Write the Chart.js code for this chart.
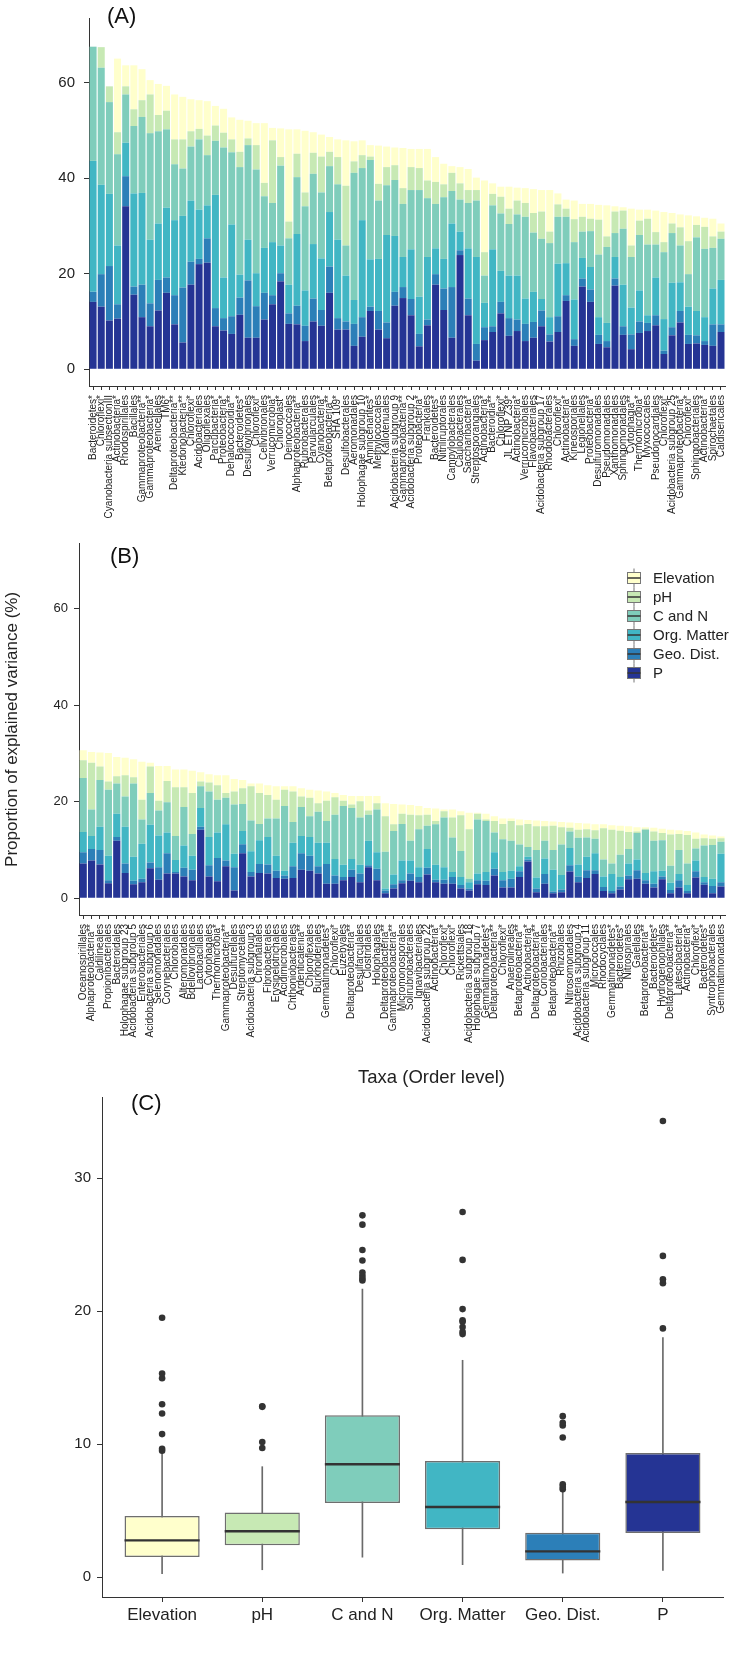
<!DOCTYPE html>
<html><head><meta charset="utf-8">
<script src="https://cdn.jsdelivr.net/npm/chart.js@4.4.1/dist/chart.umd.min.js"></script>
<style>
body{margin:0;background:#fff;width:738px;height:1654px;position:relative;overflow:hidden;font-family:'Liberation Sans',Arial,sans-serif;color:#222}
.wrap{position:absolute;left:0}
.lbl{position:absolute;font-size:22px;color:#111;line-height:1}
</style></head><body>
<div class="wrap" style="top:0px"><canvas id="cA" width="738" height="530"></canvas></div>
<div class="wrap" style="top:530px"><canvas id="cB" width="738" height="520"></canvas></div>
<div class="wrap" style="top:1060px"><canvas id="cC" width="738" height="594"></canvas></div>
<div class="lbl" style="left:107px;top:5px">(A)</div>
<div class="lbl" style="left:110px;top:545px">(B)</div>
<div class="lbl" style="left:131px;top:1092px">(C)</div>
<div style="position:absolute;left:358px;top:1068px;font-size:18.5px;line-height:1">Taxa (Order level)</div>
<script>
// ---------- shared ----------
const seriesNames = ['Elevation','pH','C and N','Org. Matter','Geo. Dist.','P'];
const seriesColors = ['#ffffcc','#c7e9b4','#7fcdbb','#41b6c4','#2c7fb8','#253494'];
const yTicksAB = [0,20,40,60];
const yTicksC = [0,10,20,30];

// ---------- panel A ----------
const labelsA = ['Bacteroidetes*','Chloroflexi*','Cyanobacteria subsectionIII','Actinobacteria*','Rhodospirillales','Bacillales','Gammaproteobacteria**','Gammaproteobacteria*','Arenicellales','TM6*','Deltaproteobacteria**','Ktedonobacteria**','Chloroflexi*','Acidobacteriales','Oligoflexales','Parcubacteria*','Proteobacteria*','Dehalococcoidia**','Bacteroidetes*','Desulfovibrionales','Chloroflexi*','Cellvibrionales','Verrucomicrobia*','Chloroplast*','Deinococcales','Alphaproteobacteria**','Rubrobacterales','Parvularculales','Cyanobacteria*','Betaproteobacteria**','SHA 109*','Desulfobacterales','Aeromonadales','Holophagae subgroup 10','Aminicenantes*','Methylococcales','Kallotenuales','Acidobacteria subgroup 9','Gammaproteobacteria**','Acidobacteria subgroup 2','Proteobacteria*','Frankiales','Bacteroidetes*','Nitriliruptorales','Campylobacterales','Caulobacterales','Saccharibacteria*','Streptosporangiales','Actinobacteria*','Bacteroidia**','Chloroflexi*','JL ETNP Z39*','Actinobacteria*','Verrucomicrobiales','Flavobacteriales','Acidobacteria subgroup 17','Rhodobacterales','Chloroflexi*','Actinobacteria*','Kineosporiales','Legionellales','Proteobacteria*','Desulfuromonadales','Pseudomonadales','Xanthomonadales','Sphingomonadales','Cytophagia**','Thermomicrobia*','Myxococcales','Pseudonocardiales','Chloroflexi*','Acidobacteria subgroup 25','Gammaproteobacteria*','Chloroflexi*','Sphingobacteriales','Actinobacteria*','Spirochaetales','Caldisericales'];
const elevA = [0,0,0,15.4,4.4,9.2,6.5,3.0,6.5,5.2,9.4,8.9,6.7,6.0,7.2,4.1,5.0,4.6,6.7,3.7,4.6,12.5,2.6,6.0,19.3,5.1,12.9,4.3,4.6,3.1,3.7,9.5,4.2,3.1,2.4,8.0,4.3,3.7,8.4,3.8,4.0,6.6,5.2,4.3,1.4,3.4,4.4,2.6,15.0,2.2,2.1,4.6,2.7,3.1,5.0,4.5,8.7,2.3,1.9,3.9,2.7,3.1,3.1,6.5,1.1,0.7,7.7,2.3,1.9,4.5,6.3,2.2,2.7,5.4,1.8,1.9,3.7,1.7];
const phA = [0,4.3,3.3,4.6,1.7,3.5,3.5,8.1,3.4,3.9,5.2,6.1,3.2,2.2,4.1,3.2,3.1,2.7,3.2,1.4,5.1,2.8,13.1,1.8,3.5,4.9,2.9,4.4,7.5,3.0,5.7,12.5,2.4,2.7,0.7,3.5,3.8,3.1,3.3,4.8,4.6,3.7,4.6,2.7,3.8,3.4,2.7,2.2,4.9,2.4,3.5,3.2,2.9,2.9,4.1,5.7,2.4,2.6,1.7,4.8,3.1,2.6,7.3,2.2,4.5,3.8,2.4,3.0,5.4,2.6,2.1,2.0,3.8,6.9,2.6,4.6,2.4,1.5];
const cnA = [23.9,24.5,19.2,19.1,10.1,14.1,15.9,22.3,19.3,16.4,11.7,9.9,11.3,14.7,10.5,11.3,27.2,15.1,22.5,19.8,21.7,10.8,8.2,16.7,9.7,11.9,17.6,14.7,13.8,9.6,11.6,6.3,26.6,10.9,20.8,12.2,10.4,11.7,11.1,12.4,22.3,12.3,9.3,12.9,6.8,6.7,9.5,11.8,5.7,9.2,12.0,10.8,12.8,17.1,12.4,12.6,15.5,9.8,9.7,12.0,5.5,7.5,13.1,15.9,5.0,11.7,10.6,11.6,14.8,6.9,14.0,10.4,7.7,6.8,15.4,14.3,8.5,8.6];
const orgA = [27.4,18.7,15.1,12.3,7.0,19.5,19.2,13.3,11.8,14.6,15.7,15.0,12.8,10.3,6.9,23.7,8.5,19.2,4.8,8.5,6.9,9.4,11.1,5.8,6.0,15.0,7.4,11.4,10.8,11.4,16.4,9.6,5.0,20.3,9.9,10.9,18.3,11.7,6.3,10.4,7.8,13.1,5.4,6.2,13.3,3.9,10.5,18.2,5.1,16.1,6.5,8.9,9.2,5.3,6.3,2.4,3.6,11.0,6.7,8.3,4.3,4.7,3.7,3.8,4.5,8.7,5.6,6.5,1.6,7.9,6.6,9.3,6.0,5.9,5.1,5.0,7.5,9.3];
const geoA = [2.1,6.8,11.4,3.0,6.3,1.7,6.8,4.8,6.4,3.2,6.1,11.5,4.8,1.1,5.1,3.8,2.6,3.7,3.6,12.0,6.6,5.6,1.9,1.7,2.2,3.9,3.2,4.8,3.3,5.5,2.4,1.7,4.6,4.1,0.9,3.9,3.3,2.9,2.3,3.4,2.6,1.2,2.2,4.5,10.6,1.0,3.5,3.5,2.7,1.2,2.4,3.7,2.4,3.6,3.3,3.3,1.5,3.3,1.2,1.4,1.7,2.6,1.9,1.3,1.5,1.8,3.1,2.4,1.7,2.1,0.7,1.7,2.4,1.9,1.7,0.8,4.5,1.6];
const pA = [14.1,13.1,10.2,10.6,34.1,15.6,10.9,9.0,12.3,16.0,9.4,5.6,17.7,22.0,22.3,9.0,8.1,7.4,11.4,6.6,6.6,10.4,13.6,18.4,9.5,9.4,5.9,10.0,9.1,16.0,8.3,8.3,4.9,6.8,12.2,8.3,6.5,13.3,14.9,11.3,4.8,9.2,17.7,12.4,6.6,23.9,11.3,1.8,6.1,7.8,11.7,7.0,8.0,5.9,6.6,9.0,5.8,7.8,14.3,4.9,17.3,14.1,5.3,4.6,17.5,7.2,4.2,7.6,8.0,9.2,3.2,7.1,9.8,5.3,5.4,5.1,4.9,7.8];

// ---------- panel B ----------
const labelsB = ['Oceanospirillales','Alphaproteobacteria**','Caldilineales','Propionibacteriales','Bacteroidales','Holophagae subgroup 23','Acidobacteria subgroup 5','Enterobacteriales','Acidobacteria subgroup 6','Selenomonadales','Corynebacteriales','Chlorobiales','Alteromonadales','Bdellovibrionales','Lactobacillales','Cytophagales','Thermomicrobia*','Gammaproteobacteria**','Desulfurellales','Streptomycetales','Acidobacteria subgroup 3','Chromatiales','Fibrobacterales','Erysipelotrichales','Acidimicrobiales','Chthoniobacterales','Ardenticatenia**','Chloroflexales','Burkholderiales','Gemmatimonadetes*','Chloroflexi*','Euzebyales','Deltaproteobacteria**','Desulfarculales','Clostridiales','Holophagales','Deltaproteobacteria**','Gammaproteobacteria**','Micromonosporales','Solirubrobacterales','Ignavibacteriales','Acidobacteria subgroup 22','Actinobacteria*','Chloroflexi*','Chloroflexi*','Rickettsiales','Acidobacteria subgroup 18','Holophagae subgroup 7','Gemmatimonadetes*','Deltaproteobacteria**','Chloroflexi*','Anaerolineales','Betaproteobacteria**','Actinobacteria*','Deltaproteobacteria**','Coriobacteriales','Betaproteobacteria**','Rhizobiales','Nitrosomonadales','Acidobacteria subgroup 4','Acidobacteria subgroup 11','Micrococcales','Rhodocyclales','Gemmatimonadetes*','Bacteroidetes*','Nitrospirales','Gaiellales','Betaproteobacteria**','Bacteroidetes*','Hydrogenophilales','Deltaproteobacteria**','Latescibacteria*','Actinobacteria*','Chloroflexi*','Bacteroidetes*','Syntrophobacterales','Gemmatimonadales'];
const elevB = [2.1,2.2,2.9,5.9,4.0,3.6,3.7,7.9,0.8,7.2,3.1,3.7,3.7,4.6,1.9,1.7,2.1,3.7,2.6,1.7,0.6,2.0,2.0,2.8,0.7,1.1,1.7,1.7,2.6,1.9,0.9,1.2,1.8,1.1,3.0,1.5,2.7,4.2,1.9,2.0,1.9,1.4,2.6,0.4,1.7,0.8,3.4,0.2,1.2,1.0,1.1,0.5,1.2,0.8,1.2,1.1,0.9,1.1,1.1,1.4,1.2,1.2,0.8,0.9,1.0,1.2,0.9,0.3,0.8,0.9,1.0,0.8,0.8,1.3,0.8,0.7,0.4];
const phB = [3.7,9.7,2.8,1.7,1.5,4.4,1.3,4.1,5.5,2.0,4.4,10.1,4.1,8.5,1.0,1.9,3.0,1.0,2.7,3.3,7.1,6.4,4.9,3.9,3.4,6.3,2.2,3.8,1.8,4.2,3.6,1.1,0.7,3.4,0.9,1.3,7.4,1.4,2.1,5.4,2.9,2.3,0.7,1.3,4.1,7.4,10.3,1.2,0.3,2.4,3.2,4.1,4.0,4.8,4.9,3.0,5.0,3.6,0.8,1.7,1.7,1.8,6.5,7.0,5.0,3.5,0.3,0.2,1.9,1.5,6.5,3.3,5.9,2.0,1.5,1.3,0.7];
const cnB = [11.2,5.5,9.7,13.7,6.3,6.3,15.2,5.0,6.6,5.2,6.3,5.0,8.0,4.5,4.5,9.4,6.8,5.5,10.2,5.6,6.4,3.4,3.8,7.7,13.4,4.3,6.0,4.3,6.4,4.5,9.2,12.2,10.6,9.8,5.4,8.9,7.6,9.0,7.6,4.1,7.9,4.8,8.4,10.3,7.2,5.4,0.7,11.2,10.6,4.1,6.8,6.2,4.5,2.0,5.7,3.7,4.1,6.3,3.4,5.5,4.0,3.0,3.5,2.2,4.6,3.0,5.5,9.0,6.3,6.3,3.5,5.0,4.5,2.5,6.5,7.0,2.5];
const orgB = [4.2,2.7,4.8,5.1,4.8,7.6,5.0,7.3,7.8,6.6,4.3,2.5,4.6,2.9,3.9,5.9,5.3,7.5,2.8,2.7,4.3,4.9,5.7,3.1,1.0,4.9,3.6,3.9,4.9,4.4,3.4,2.5,2.2,1.8,5.1,3.4,0.4,2.0,4.1,2.7,2.0,3.9,3.1,2.6,1.0,1.7,1.3,1.4,1.8,3.4,1.7,1.7,1.0,0.6,2.3,3.2,4.5,3.0,3.6,2.5,2.8,3.5,2.2,3.5,2.0,2.5,2.2,1.5,2.6,1.2,1.5,1.3,1.2,2.2,1.1,1.5,5.9];
const geoB = [2.3,2.4,3.0,0.6,0.8,2.0,0.7,0.7,1.2,2.6,4.2,0.3,1.8,2.2,0.6,2.3,4.8,1.2,4.8,1.9,0.9,1.9,1.9,1.5,0.7,2.4,3.4,3.1,1.5,4.1,1.7,0.7,1.5,1.8,0.4,2.4,0.6,0.9,0.6,1.5,1.1,1.4,0.5,0.8,1.4,0.7,0.4,0.8,0.9,1.4,1.5,1.8,1.2,0.4,0.8,2.0,0.4,0.6,1.3,1.2,1.6,0.8,0.8,0.5,0.6,0.8,1.8,0.7,0.8,0.6,0.7,1.5,0.5,1.3,0.5,1.5,0.9];
const pB = [7.2,7.8,7.0,3.1,11.9,5.2,2.9,3.3,6.2,3.8,5.1,5.1,4.5,3.7,14.2,4.5,3.5,6.6,1.6,9.3,4.5,5.2,5.1,4.2,4.0,4.2,5.9,5.7,5.1,3.0,3.0,3.7,4.4,3.3,6.4,3.7,1.0,2.0,3.1,3.6,3.3,4.9,3.3,3.0,3.0,2.0,1.6,2.9,2.7,4.7,2.2,2.2,4.4,7.6,1.2,3.0,1.0,1.2,5.5,3.3,4.2,5.0,1.5,1.0,1.8,3.9,4.0,3.0,2.2,3.9,1.0,2.2,1.0,4.3,2.8,1.0,2.4];

// ---------- panel C (box plots) ----------
const categoriesC = ['Elevation','pH','C and N','Org. Matter','Geo. Dist.','P'];
const whiskerLowC  = [0.25,0.55,1.5,0.93,0.3,0.5];
const q1C          = [1.5,2.39,5.57,3.59,1.25,3.31];
const medianC      = [2.76,3.44,8.48,5.27,1.93,5.64];
const q3C          = [4.6,4.85,12.17,8.73,3.34,9.33];
const whiskerHighC = [9.3,8.3,21.65,16.3,6.4,18.0];
const outliersC = [
  [9.5,9.65,10.75,12.3,13.0,14.95,15.3,19.5],
  [9.7,10.15,12.8,12.85],
  [22.3,22.45,22.65,22.9,23.8,24.6,26.5,27.2],
  [18.27,18.45,18.8,19.2,19.3,20.15,23.85,27.45],
  [6.6,6.78,6.98,10.5,11.4,11.6,12.1],
  [18.7,22.1,22.4,24.15,34.3]
];

Chart.defaults.font.family = "'Liberation Sans', Arial, sans-serif";
Chart.defaults.color = '#222';
const AX = '#333';

function stackedBars(id, labels, values, cfg) {
  const datasets = seriesNames.map((n, i) => ({
    label: n, data: values[i], backgroundColor: seriesColors[i], borderWidth: 0,
    categoryPercentage: 0.86, barPercentage: 1
  })).reverse();
  const yScale = {
    stacked: true, min: -3.5, max: 73.5,
    grid: { drawOnChartArea: false, tickLength: 5, color: AX },
    border: { display: true, color: AX, width: 1 },
    ticks: { font: { size: cfg.yfont }, color: '#222', padding: cfg.ypad },
    afterBuildTicks: s => { s.ticks = yTicksAB.map(v => ({ value: v })); },
    afterFit: s => { s.width = cfg.yw; }
  };
  if (cfg.ytitle) yScale.title = { display: true, text: cfg.ytitle, font: { size: 17 }, color: '#222', padding: { top: 2, bottom: 0 } };
  return new Chart(document.getElementById(id), {
    type: 'bar',
    data: { labels, datasets },
    options: {
      responsive: false, animation: false,
      layout: { padding: { top: cfg.top, right: cfg.right, left: 0, bottom: 0 } },
      plugins: { legend: { display: false }, tooltip: { enabled: false } },
      scales: {
        x: {
          stacked: true, offset: true,
          grid: { display: true, drawOnChartArea: false, offset: false, tickLength: 4, color: AX },
          border: { display: true, color: AX, width: 1 },
          ticks: { autoSkip: false, minRotation: 90, maxRotation: 90, font: { size: 10 }, color: '#222', padding: 5 },
          afterFit: s => { s.height = cfg.xh; }
        },
        y: yScale
      }
    },
    plugins: cfg.plugins || []
  });
}

const boxLegend = {
  id: 'boxLegend',
  afterDraw(chart) {
    const ctx = chart.ctx; ctx.save();
    const x0 = 626, y0 = 48, dy = 19;
    seriesNames.forEach((n, i) => {
      const cy = y0 + i * dy;
      ctx.strokeStyle = '#777'; ctx.lineWidth = 1;
      ctx.beginPath(); ctx.moveTo(x0 + 8, cy - 9.5); ctx.lineTo(x0 + 8, cy + 9.5); ctx.stroke();
      ctx.fillStyle = seriesColors[i]; ctx.fillRect(x0 + 1.5, cy - 5.5, 13, 11);
      ctx.strokeRect(x0 + 1.5, cy - 5.5, 13, 11);
      ctx.strokeStyle = '#333'; ctx.lineWidth = 1.5;
      ctx.beginPath(); ctx.moveTo(x0 + 1.5, cy); ctx.lineTo(x0 + 14.5, cy); ctx.stroke();
      ctx.fillStyle = '#222'; ctx.font = "15px 'Liberation Sans', Arial, sans-serif";
      ctx.textBaseline = 'middle'; ctx.textAlign = 'left';
      ctx.fillText(n, x0 + 27, cy + 1);
    });
    ctx.restore();
  }
};

stackedBars('cA', labelsA, [elevA, phA, cnA, orgA, geoA, pA], { top: 10, right: 1, xh: 144, yw: 89, ypad: 9, yfont: 15 });
stackedBars('cB', labelsB, [elevB, phB, cnB, orgB, geoB, pB], { top: 9, right: 9, xh: 135, yw: 79, ypad: 6, yfont: 13, ytitle: 'Proportion of explained variance (%)', plugins: [boxLegend] });

// ---------- panel C chart ----------
const outlierPts = [];
outliersC.forEach((arr, i) => arr.forEach(v => outlierPts.push({ x: i, y: v })));
new Chart(document.getElementById('cC'), {
  type: 'bar',
  data: {
    datasets: [
      { label: 'whisker', data: categoriesC.map((c, i) => ({ x: i, y: [whiskerLowC[i], whiskerHighC[i]] })),
        backgroundColor: '#6a6a6a', barThickness: 1, grouped: false, order: 3 },
      { label: 'box', data: categoriesC.map((c, i) => ({ x: i, y: [q1C[i], q3C[i]] })),
        backgroundColor: seriesColors, borderColor: '#6e6e6e', borderWidth: 1.5, borderSkipped: false,
        barPercentage: 0.75, categoryPercentage: 1, grouped: false, order: 2 },
      { label: 'median', data: categoriesC.map((c, i) => ({ x: i, y: [medianC[i] - 0.09, medianC[i] + 0.09] })),
        backgroundColor: '#333', barPercentage: 0.75, categoryPercentage: 1, grouped: false, order: 1 },
      { type: 'scatter', label: 'outliers', data: outlierPts, backgroundColor: '#333', borderWidth: 0, pointRadius: 3.3, order: 0 }
    ]
  },
  options: {
    responsive: false, animation: false,
    layout: { padding: { top: 37, right: 15, left: 0, bottom: 0 } },
    plugins: { legend: { display: false }, tooltip: { enabled: false } },
    scales: {
      x: {
        type: 'linear', min: -0.6, max: 5.6, offset: false,
        grid: { drawOnChartArea: false, offset: false, tickLength: 5, color: AX },
        border: { display: true, color: AX, width: 1 },
        ticks: { font: { size: 17 }, color: '#222', padding: 3, callback: v => categoriesC[v] },
        afterBuildTicks: s => { s.ticks = categoriesC.map((c, i) => ({ value: i })); },
        afterFit: s => { s.height = 57; }
      },
      y: {
        min: -1.5, max: 36.1,
        grid: { drawOnChartArea: false, tickLength: 5, color: AX },
        border: { display: true, color: AX, width: 1 },
        ticks: { font: { size: 15 }, color: '#222', padding: 6 },
        afterBuildTicks: s => { s.ticks = yTicksC.map(v => ({ value: v })); },
        afterFit: s => { s.width = 102; }
      }
    }
  }
});
</script>
</body></html>
